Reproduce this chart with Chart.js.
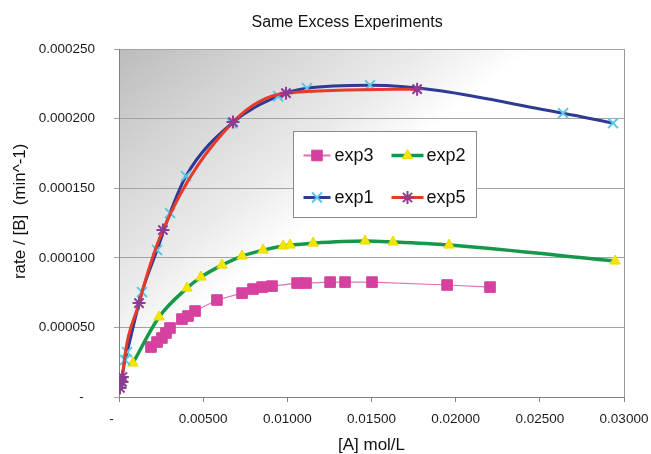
<!DOCTYPE html>
<html><head><meta charset="utf-8">
<script src="https://cdn.jsdelivr.net/npm/chart.js@4"></script>
<style>html,body{margin:0;padding:0;background:#fff}#wrap{width:651px;height:454px;position:relative}</style>
</head><body><div id="wrap"><canvas id="c" width="651" height="454"></canvas></div>
<script>
// ---- data ----
const exp3X = [0.00190,0.00226,0.00255,0.00279,0.00303,0.00374,0.00410,0.00452,0.00582,0.00731,0.00796,0.00850,0.00909,0.01058,0.01111,0.01254,0.01343,0.01503,0.01949,0.02204];
const exp3Y = [0.0000359,0.0000395,0.0000424,0.0000460,0.0000496,0.0000560,0.0000582,0.0000618,0.0000697,0.0000747,0.0000776,0.0000790,0.0000797,0.0000819,0.0000819,0.0000826,0.0000826,0.0000826,0.0000805,0.0000790];
const exp2X = [0.00083,0.00238,0.00404,0.00487,0.00612,0.00731,0.00856,0.00975,0.01016,0.01153,0.01462,0.01628,0.01961,0.02947];
const exp2Y = [0.0000244,0.0000575,0.0000783,0.0000862,0.0000948,0.0001013,0.0001056,0.0001085,0.0001092,0.0001106,0.0001121,0.0001114,0.0001092,0.0000977];
const exp1X = [0.00012,0.00036,0.00048,0.00137,0.00226,0.00303,0.00398,0.00671,0.00945,0.01117,0.01491,0.02638,0.02935];
const exp1Y = [0.0000101,0.0000266,0.0000323,0.0000754,0.0001056,0.0001322,0.0001588,0.0001968,0.0002162,0.0002220,0.0002241,0.0002040,0.0001968];
const exp5X = [0.00006,0.00018,0.00020,0.00119,0.00261,0.00677,0.00992,0.01771];
const exp5Y = [0.0000065,0.0000108,0.0000144,0.0000675,0.0001200,0.0001976,0.0002184,0.0002213];
const seriesNames = ['exp3','exp2','exp1','exp5'];
const xTickValues = [0,0.005,0.01,0.015,0.02,0.025,0.03];
const xTickLabels = ['-','0.00500','0.01000','0.01500','0.02000','0.02500','0.03000'];
const yTickValues = [0,0.00005,0.0001,0.00015,0.0002,0.00025];
const yTickLabels = ['-','0.000050','0.000100','0.000150','0.000200','0.000250'];
const titleText = 'Same Excess Experiments';
const xTitle = '[A] mol/L';
const yTitle = 'rate / [B]  (min^-1)';

const pts = (xs, ys) => xs.map((x, i) => ({x: x, y: ys[i]}));
const FONT = '"Liberation Sans", Arial, sans-serif';
Chart.defaults.font.family = FONT;
const NB = '\u00a0';

const styles = {
  exp3: {line:'#DB72B6', lw:1.2, ps:'rect', r:7.5, fill:'#D6409F', stroke:'#D6409F', mlw:1, smooth:false},
  exp2: {line:'#14994B', lw:3.5, ps:'triangle', r:6, fill:'#F4E600', stroke:'#EADC00', mlw:1, smooth:true},
  exp1: {line:'#2E3A93', lw:3, ps:'crossRot', r:7, fill:'#5CC6E8', stroke:'#5CC6E8', mlw:2, smooth:true},
  exp5: {line:'#E83A2A', lw:3, ps:'star', r:6.5, fill:'#8E3C90', stroke:'#8E3C90', mlw:2, smooth:true}
};
const dataMap = {exp3:[exp3X,exp3Y], exp2:[exp2X,exp2Y], exp1:[exp1X,exp1Y], exp5:[exp5X,exp5Y]};

const datasets = seriesNames.map((n, i) => {
  const s = styles[n];
  return {
    label: n, data: pts(dataMap[n][0], dataMap[n][1]), showLine: true,
    borderColor: s.line, borderWidth: s.lw, fill: false,
    tension: s.smooth ? 0.4 : 0, cubicInterpolationMode: s.smooth ? 'monotone' : 'default',
    pointStyle: s.ps, pointRadius: s.r, pointHoverRadius: s.r,
    pointBackgroundColor: s.fill, pointBorderColor: s.stroke, pointBorderWidth: s.mlw,
    order: seriesNames.length - 1 - i
  };
});

function drawMarker(ctx, s, x, y) {
  ctx.save();
  ctx.fillStyle = s.fill; ctx.strokeStyle = s.stroke; ctx.lineWidth = s.mlw;
  const r = s.r;
  ctx.beginPath();
  if (s.ps === 'rect') {
    const h = r * Math.SQRT1_2; ctx.rect(x - h, y - h, 2 * h, 2 * h); ctx.fill(); ctx.stroke();
  } else if (s.ps === 'triangle') {
    ctx.moveTo(x, y - r); ctx.lineTo(x + r * 0.866, y + r * 0.5); ctx.lineTo(x - r * 0.866, y + r * 0.5);
    ctx.closePath(); ctx.fill(); ctx.stroke();
  } else {
    const d = r * Math.SQRT1_2;
    ctx.moveTo(x - d, y - d); ctx.lineTo(x + d, y + d);
    ctx.moveTo(x - d, y + d); ctx.lineTo(x + d, y - d);
    if (s.ps === 'star') { ctx.moveTo(x, y - r); ctx.lineTo(x, y + r); ctx.moveTo(x - r, y); ctx.lineTo(x + r, y); }
    ctx.stroke();
  }
  ctx.restore();
}

const bgPlugin = {
  id: 'plotBg',
  beforeDraw(chart) {
    const {ctx, chartArea: a} = chart;
    const g = ctx.createLinearGradient(a.left, a.top, a.left + a.width * 0.32, a.top + a.height * 0.58);
    g.addColorStop(0, '#bcbcbc');
    g.addColorStop(0.35, '#d3d3d3');
    g.addColorStop(0.75, '#ebebeb');
    g.addColorStop(1, '#ffffff');
    ctx.save(); ctx.fillStyle = g; ctx.fillRect(a.left, a.top, a.width, a.height); ctx.restore();
  },
  beforeDatasetsDraw(chart) {
    const {ctx, chartArea: a} = chart;
    ctx.save(); ctx.strokeStyle = '#9a9a9a'; ctx.lineWidth = 1;
    ctx.beginPath(); ctx.moveTo(Math.round(a.right) + 0.5, a.top); ctx.lineTo(Math.round(a.right) + 0.5, a.bottom); ctx.stroke();
    ctx.restore();
  }
};

const legendPlugin = {
  id: 'boxLegend',
  afterDatasetsDraw(chart) {
    const {ctx, chartArea: a} = chart;
    const L = Math.round(a.left + a.width * 0.345) + 0.5, R = Math.round(a.left + a.width * 0.707) + 0.5;
    const T = Math.round(a.top + a.height * 0.236) + 0.5, B = Math.round(a.top + a.height * 0.483) + 0.5;
    ctx.save();
    ctx.fillStyle = '#ffffff'; ctx.fillRect(L, T, R - L, B - T);
    ctx.strokeStyle = '#8a8a8a'; ctx.lineWidth = 1; ctx.strokeRect(L, T, R - L, B - T);
    const cols = [{l0: 10, l1: 37, tx: 41}, {l0: 98, l1: 130, tx: 133}];
    const rows = [24, 66];
    ctx.font = '18px ' + FONT; ctx.textBaseline = 'middle'; ctx.textAlign = 'left';
    seriesNames.forEach((n, i) => {
      const c = cols[i % 2], y = T + rows[Math.floor(i / 2)];
      const s = styles[n];
      ctx.strokeStyle = s.line; ctx.lineWidth = Math.max(s.lw, 2);
      ctx.beginPath(); ctx.moveTo(L + c.l0, y); ctx.lineTo(L + c.l1, y); ctx.stroke();
      drawMarker(ctx, s, L + (c.l0 + c.l1) / 2, y);
      ctx.fillStyle = '#111'; ctx.fillText(n, L + c.tx, y + 1);
    });
    ctx.restore();
  }
};

new Chart(document.getElementById('c'), {
  type: 'scatter',
  data: {datasets},
  plugins: [bgPlugin, legendPlugin],
  options: {
    responsive: false, animation: false, devicePixelRatio: 1,
    layout: {padding: {left: 0, right: 27, top: 0, bottom: 0}},
    plugins: {
      legend: {display: false}, tooltip: {enabled: false},
      title: {display: true, text: titleText + NB.repeat(11), fullSize: false, color: '#111',
        font: {size: 16, weight: 'normal'}, padding: {top: 13, bottom: 17}}
    },
    scales: {
      x: {
        type: 'linear', min: 0, max: 0.03,
        afterBuildTicks: s => { s.ticks = xTickValues.map(v => ({value: v})); },
        afterFit: s => { s.height = 57; s.paddingLeft = 0; s.paddingRight = 0; },
        border: {color: '#808080', width: 1},
        grid: {drawOnChartArea: false, drawTicks: true, tickLength: 5, color: '#808080'},
        ticks: {autoSkip: false, maxRotation: 0, padding: 9, color: '#1a1a1a', font: {size: 13.5},
          callback: (v, i) => i === 0 ? xTickLabels[0] + NB.repeat(4) : xTickLabels[i]},
        title: {display: true, text: xTitle, color: '#111', font: {size: 17, lineHeight: 1}, padding: {top: 0, bottom: 0}}
      },
      y: {
        type: 'linear', min: 0, max: 0.00025,
        afterBuildTicks: s => { s.ticks = yTickValues.map(v => ({value: v})); },
        afterFit: s => { s.width = 119; s.paddingTop = 0; s.paddingBottom = 0; },
        border: {color: '#808080', width: 1},
        grid: {color: '#a3a3a3', drawTicks: true, tickLength: 5},
        ticks: {autoSkip: false, padding: 19, color: '#1a1a1a', font: {size: 13.5},
          callback: (v, i) => i === 0 ? yTickLabels[0] + NB.repeat(3) : yTickLabels[i]},
        title: {display: true, text: NB.repeat(5) + yTitle, color: '#111', font: {size: 17}, padding: {top: 10, bottom: 0}}
      }
    }
  }
});
</script></body></html>
